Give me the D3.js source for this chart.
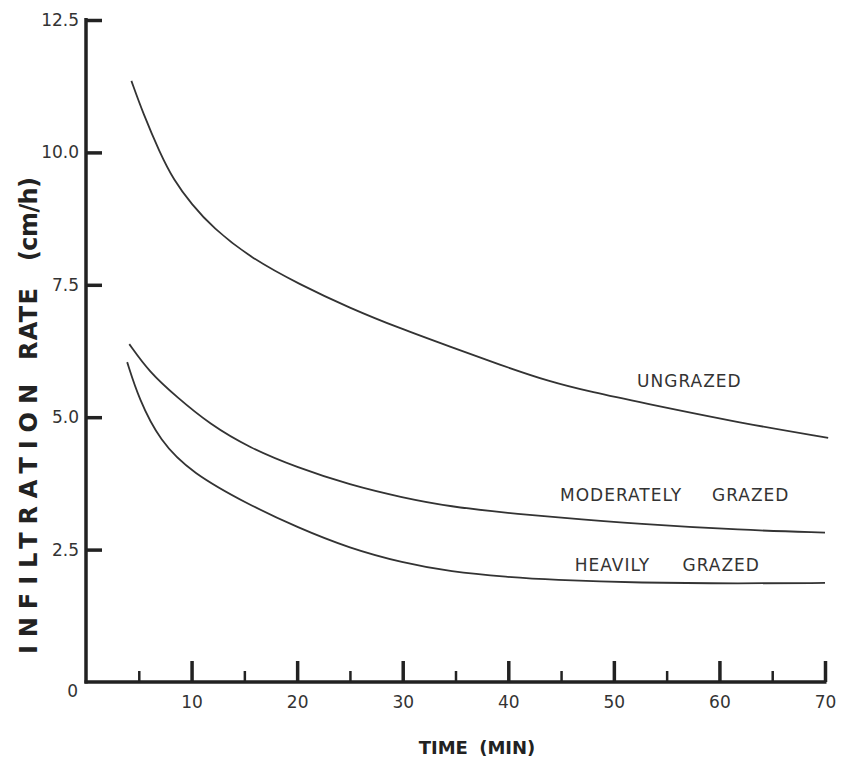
<!DOCTYPE html>
<html>
<head>
<meta charset="utf-8">
<script src="https://cdn.jsdelivr.net/npm/d3@7/dist/d3.min.js"></script>
<style>
  body { margin: 0; background: #fff; }
  svg { display: block; }
  .tick text { font-family: "DejaVu Sans", sans-serif; font-size: 17px; fill: #333; }
  .lbl { font-family: "DejaVu Sans", sans-serif; font-size: 17px; fill: #333; letter-spacing: 1px; }
  .title { font-family: "DejaVu Sans", sans-serif; font-weight: bold; fill: #222; }
</style>
</head>
<body>
<div id="chart"></div>
<script>
var width = 847, height = 776;

// minutes / cm per hour
var ungrazedTime = [4.3, 5.4, 7.0, 8.3, 10, 12, 15.5, 20.3, 25, 29.7, 34.5, 39.2, 43.9, 48, 52.5, 62, 70.3];
var ungrazedRate = [11.35, 10.74, 9.99, 9.48, 9.02, 8.58, 8.02, 7.50, 7.06, 6.68, 6.33, 5.99, 5.67, 5.47, 5.28, 4.89, 4.61];
var moderateTime = [4.1, 6, 8.6, 11.7, 15.5, 20, 25, 30, 34.5, 40, 44, 52.5, 62, 70];
var moderateRate = [6.38, 5.85, 5.38, 4.87, 4.42, 4.05, 3.72, 3.48, 3.31, 3.19, 3.12, 2.98, 2.87, 2.82];
var heavyTime = [3.9, 5.0, 7.0, 10, 15.5, 20, 25, 30, 34.5, 40, 44, 52.5, 62, 70];
var heavyRate = [6.04, 5.35, 4.55, 3.95, 3.34, 2.92, 2.52, 2.25, 2.08, 1.98, 1.93, 1.87, 1.86, 1.87];

// curve labels: words, and where each word starts (time) at the label's level (rate)
var labelWords = [["UNGRAZED"], ["MODERATELY", "GRAZED"], ["HEAVILY", "GRAZED"]];
var labelStart = [[52.2], [44.9, 59.3], [46.3, 56.5]];
var labelRate = [5.68, 3.53, 2.21];

var xMajor = [10, 20, 30, 40, 50, 60, 70];
var xMinor = [5, 15, 25, 35, 45, 55, 65];
var yTicks = [0, 2.5, 5.0, 7.5, 10.0, 12.5];

var x = d3.scaleLinear().domain([0, 70]).range([86, 825]);
var y = d3.scaleLinear().domain([0, 12.5]).range([682, 20]);

var svg = d3.select("#chart").append("svg").attr("width", width).attr("height", height);

// y axis, ticks point inward
var yAxis = svg.append("g").attr("transform", "translate(" + x(0) + ",0)")
    .call(d3.axisLeft(y).tickValues(yTicks).tickSize(-16).tickPadding(7)
        .tickFormat(function (d) { return d === 0 ? "0" : d3.format(".1f")(d); }));
yAxis.select(".domain").remove();
yAxis.selectAll(".tick line").attr("stroke", "#222").attr("stroke-width", 3.5);
yAxis.selectAll(".tick").filter(function (d) { return d === 0; }).select("line").remove();
yAxis.selectAll(".tick").filter(function (d) { return d === 0; }).select("text")
    .attr("dy", "0.85em").attr("x", -8);

svg.append("line").attr("x1", x(0)).attr("x2", x(0)).attr("y1", y(12.5) - 2).attr("y2", y(0) + 1.5)
    .attr("stroke", "#222").attr("stroke-width", 3.5);

// x axis, ticks point upward
var xAxis = svg.append("g").attr("transform", "translate(0," + y(0) + ")")
    .call(d3.axisBottom(x).tickValues(xMajor).tickSize(-21).tickPadding(14).tickFormat(d3.format("d")));
xAxis.select(".domain").remove();
xAxis.selectAll(".tick line").attr("stroke", "#222").attr("stroke-width", 3.5);

var xAxisMinor = svg.append("g").attr("transform", "translate(0," + y(0) + ")")
    .call(d3.axisBottom(x).tickValues(xMinor).tickSize(-11).tickFormat(""));
xAxisMinor.select(".domain").remove();
xAxisMinor.selectAll(".tick line").attr("stroke", "#222").attr("stroke-width", 2.5);

svg.append("line").attr("x1", x(0) - 1.5).attr("x2", x(70) + 1.5).attr("y1", y(0)).attr("y2", y(0))
    .attr("stroke", "#222").attr("stroke-width", 3.5);

// curves
var line = d3.line()
    .x(function (d) { return x(d[0]); })
    .y(function (d) { return y(d[1]); })
    .curve(d3.curveBasis);

[[ungrazedTime, ungrazedRate], [moderateTime, moderateRate], [heavyTime, heavyRate]].forEach(function (s) {
    svg.append("path").datum(d3.zip(s[0], s[1]))
        .attr("d", line).attr("fill", "none").attr("stroke", "#333").attr("stroke-width", 1.8);
});

// curve labels
var lbl = svg.selectAll(".lbl").data(labelWords).enter().append("text")
    .attr("class", "lbl")
    .attr("y", function (d, i) { return y(labelRate[i]); })
    .attr("dy", "0.36em");
lbl.selectAll("tspan").data(function (d, i) {
        return d.map(function (w, j) { return { word: w, t: labelStart[i][j] }; });
    }).enter().append("tspan")
    .attr("x", function (d) { return x(d.t); })
    .text(function (d) { return d.word; });

// axis titles
svg.append("text").attr("class", "title").attr("x", 477).attr("y", 748).attr("dy", "0.36em")
    .style("font-size", "18px").style("word-spacing", "5px")
    .attr("text-anchor", "middle")
    .text("TIME (MIN)");

// y title, word by word (lettering is widely spaced in the original)
var yTitle = [
    { text: "INFILTRATION", mid: 519, len: 270 },
    { text: "RATE", mid: 324, len: 72 },
    { text: "(cm/h)", mid: 219, len: 84 }
];
svg.selectAll(".ytitle").data(yTitle).enter().append("text")
    .attr("class", "title ytitle")
    .attr("transform", function (d) { return "translate(28," + d.mid + ") rotate(-90)"; })
    .attr("dy", "0.36em")
    .style("font-size", "24px")
    .attr("text-anchor", "middle")
    .attr("textLength", function (d) { return d.len; })
    .attr("lengthAdjust", "spacing")
    .text(function (d) { return d.text; });
</script>
</body>
</html>
